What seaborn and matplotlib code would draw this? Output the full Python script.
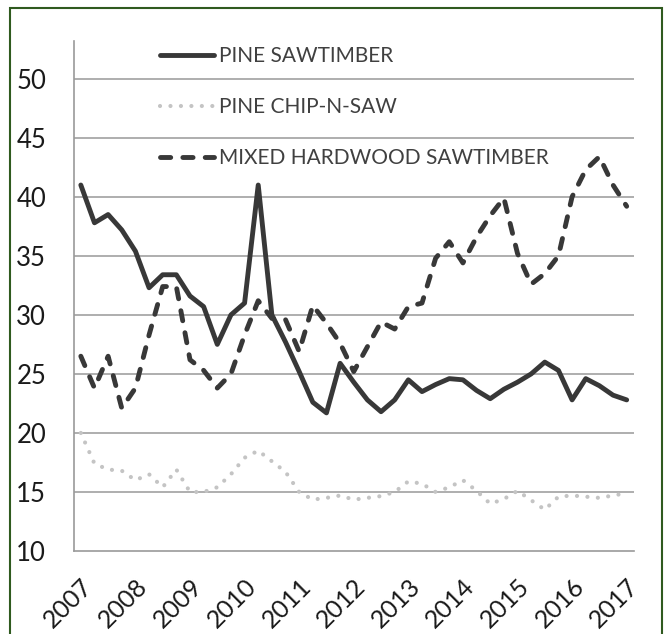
import numpy as np
import pandas as pd
import matplotlib
matplotlib.use('Agg')
import matplotlib.pyplot as plt
from matplotlib.patches import Rectangle
import seaborn as sns

# ==================== DATA (quarterly, 2007 - 2017) ====================
years = ['2007', '2008', '2009', '2010', '2011', '2012',
         '2013', '2014', '2015', '2016', '2017']

pine_sawtimber = [41.0, 37.8, 38.5, 37.2, 35.4, 32.3, 33.4, 33.4, 31.6, 30.7,
                  27.5, 30.0, 31.0, 41.0, 30.0, 27.7, 25.2, 22.6, 21.7, 25.9,
                  24.3, 22.8, 21.8, 22.8, 24.5, 23.5, 24.1, 24.6, 24.5, 23.6,
                  22.9, 23.7, 24.3, 25.0, 26.0, 25.3, 22.8, 24.6, 24.0, 23.2,
                  22.8]

pine_chip_n_saw = [20.0, 17.4, 16.9, 16.8, 16.0, 16.5, 15.4, 16.9, 15.0, 15.0,
                   15.4, 16.5, 17.9, 18.5, 17.6, 16.7, 15.0, 14.35, 14.5, 14.7,
                   14.35, 14.5, 14.65, 15.0, 15.9, 15.7, 15.0, 15.4, 16.0, 15.1,
                   14.0, 14.4, 15.1, 14.3, 13.5, 14.6, 14.7, 14.6, 14.5, 14.7,
                   14.9]

mixed_hardwood = [26.5, 23.8, 26.5, 22.1, 23.8, 28.3, 32.4, 32.4, 26.2, 25.3,
                  23.8, 25.0, 28.3, 31.2, 29.7, 29.6, 26.9, 30.8, 29.3, 27.6,
                  25.2, 27.3, 29.4, 28.8, 30.7, 31.0, 34.8, 36.2, 34.4, 36.6,
                  38.4, 39.9, 35.2, 32.6, 33.5, 35.0, 40.0, 42.3, 43.4, 41.0,
                  39.2]

quarter = np.arange(len(pine_sawtimber))
df = pd.DataFrame({'quarter': quarter,
                   'PINE SAWTIMBER': pine_sawtimber,
                   'PINE CHIP-N-SAW': pine_chip_n_saw,
                   'MIXED HARDWOOD SAWTIMBER': mixed_hardwood})

# ==================== STYLE ====================
sns.set_style('white')
plt.rcParams['font.family'] = ['Lato', 'DejaVu Sans']

dark = '#383838'
light = '#c4c4c4'
grid_c = '#a8a8a8'

fig = plt.figure(figsize=(6.7, 6.34), dpi=100)
ax = fig.add_axes([74 / 670, 83 / 634, (633.5 - 74) / 670, (593 - 83) / 634])

sns.lineplot(data=df, x='quarter', y='PINE SAWTIMBER', ax=ax, color=dark,
             linewidth=3.5, label='PINE SAWTIMBER', solid_joinstyle='round',
             solid_capstyle='round')
sns.lineplot(data=df, x='quarter', y='PINE CHIP-N-SAW', ax=ax, color=light,
             linewidth=3.0, linestyle=(0, (0.01, 2.5)), dash_capstyle='round',
             label='PINE CHIP-N-SAW')
sns.lineplot(data=df, x='quarter', y='MIXED HARDWOOD SAWTIMBER', ax=ax,
             color=dark, linewidth=3.5, linestyle=(0, (2.1, 2.5)),
             dash_capstyle='round', label='MIXED HARDWOOD SAWTIMBER')

# axes
ax.set_xlim(-0.5, len(quarter) - 0.5)
ax.set_ylim(10, 53.2)
ax.set_yticks(np.arange(10, 51, 5))
ax.set_yticklabels([str(v) for v in range(10, 51, 5)], fontsize=18.5, color='#1a1a1a')
ax.tick_params(axis='y', length=0, pad=20)
for v in range(15, 51, 5):
    ax.axhline(v, color=grid_c, lw=1.3, zorder=0)

ax.set_xticks(np.arange(0, len(quarter), 4))
ax.set_xticklabels(years, rotation=45, ha='right', rotation_mode='anchor',
                   fontsize=18, color='#1a1a1a')
ax.tick_params(axis='x', which='major', length=0, pad=17)
ax.set_xticks(np.arange(-0.5, len(quarter), 1), minor=True)
ax.tick_params(axis='x', which='minor', direction='inout', length=9,
               width=1, color='#8c8c8c')
ax.set_xlabel('')
ax.set_ylabel('')

for side in ['top', 'right']:
    ax.spines[side].set_visible(False)
for side in ['left', 'bottom']:
    ax.spines[side].set_color('#9a9a9a')
    ax.spines[side].set_linewidth(1.2)

leg = ax.legend(loc='upper left', bbox_to_anchor=(160 / 670, 1 - 46 / 634),
                bbox_transform=fig.transFigure, frameon=False, fontsize=15,
                handlelength=2.6, handletextpad=0.25, labelspacing=1.5,
                borderpad=0, borderaxespad=0)
for t in leg.get_texts():
    t.set_color('#404040')

# outer frame
fig.patches.append(Rectangle((10 / 670, -0.05), 652 / 670, 1.05 - 8 / 634,
                             transform=fig.transFigure, fill=False,
                             edgecolor='#2f5a1f', linewidth=1.5))

plt.savefig('out.png', dpi=100)
